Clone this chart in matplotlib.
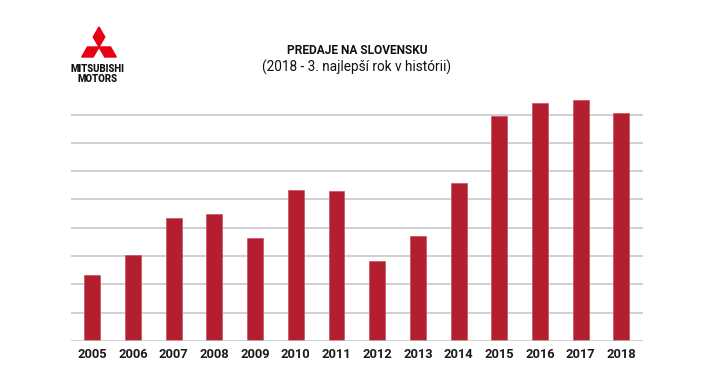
import numpy as np
import matplotlib.pyplot as plt
from matplotlib.patches import Polygon

years = ["2005", "2006", "2007", "2008", "2009", "2010", "2011",
         "2012", "2013", "2014", "2015", "2016", "2017", "2018"]
sales = [2.33, 3.04, 4.33, 4.47, 3.64, 5.34, 5.31,
         2.84, 3.71, 5.58, 7.96, 8.42, 8.50, 8.07]
grid_levels = [1, 2, 3, 4, 5, 6, 7, 8]

title = "PREDAJE NA SLOVENSKU"
subtitle = "(2018 - 3. najlepší rok v histórii)"

FONT = ["Roboto", "DejaVu Sans"]
RED = "#b31f2e"

plt.rcParams["font.family"] = FONT

W, H = 714, 383
fig = plt.figure(figsize=(W / 100, H / 100), dpi=100)

ax = fig.add_axes([71 / W, 1 - 341 / H, 572 / W, 9 * 28.3 / H])
x = np.arange(len(years))
ax.bar(x, sales, width=0.39, color=RED, edgecolor="#c9505c", linewidth=0.5, zorder=3)
for g in grid_levels:
    ax.axhline(g, color="#c4c4c4", linewidth=1.1, zorder=1)
ax.axhline(0, color="#c4c4c4", linewidth=1.1, zorder=4)
ax.set_xlim(-0.52, len(years) - 0.47)
ax.set_ylim(0, 9)
ax.set_xticks(x)
ax.set_xticklabels(years, fontsize=9.3, fontweight="bold", color="#1a1a1a")
ax.tick_params(axis="x", length=0, pad=5)
ax.set_yticks([])
for s in ax.spines.values():
    s.set_visible(False)

fig.text(0.5, 1 - 51 / H, title, ha="center", va="center",
         fontsize=8.6, fontweight="bold", color="#111111")
fig.text(0.5, 1 - 67 / H, subtitle, ha="center", va="center",
         fontsize=9.8, color="#111111")

# logo: three rhombi around a common vertex
cx, cy, L = 99.0, 47.0, 20.0
hw = L * np.tan(np.radians(30)) / 2
base = np.array([[0, 0], [-hw, L / 2], [0, L], [hw, L / 2]])
for ang in (0, 120, 240):
    a = np.radians(ang)
    rot = np.array([[np.cos(a), -np.sin(a)], [np.sin(a), np.cos(a)]])
    pts = base @ rot.T
    pts = np.column_stack([(cx + pts[:, 0]) / W, 1 - (cy - pts[:, 1]) / H])
    fig.patches.append(Polygon(pts, closed=True, color="#e60012",
                               transform=fig.transFigure, figure=fig))
fig.text(97.5 / W, 1 - 69.5 / H, "MITSUBISHI", ha="center", va="center",
         fontsize=6.9, fontweight="heavy", color="#111111")
fig.text(97.5 / W, 1 - 78.5 / H, "MOTORS", ha="center", va="center",
         fontsize=6.9, fontweight="heavy", color="#111111")

fig.savefig("out.png", dpi=100)
